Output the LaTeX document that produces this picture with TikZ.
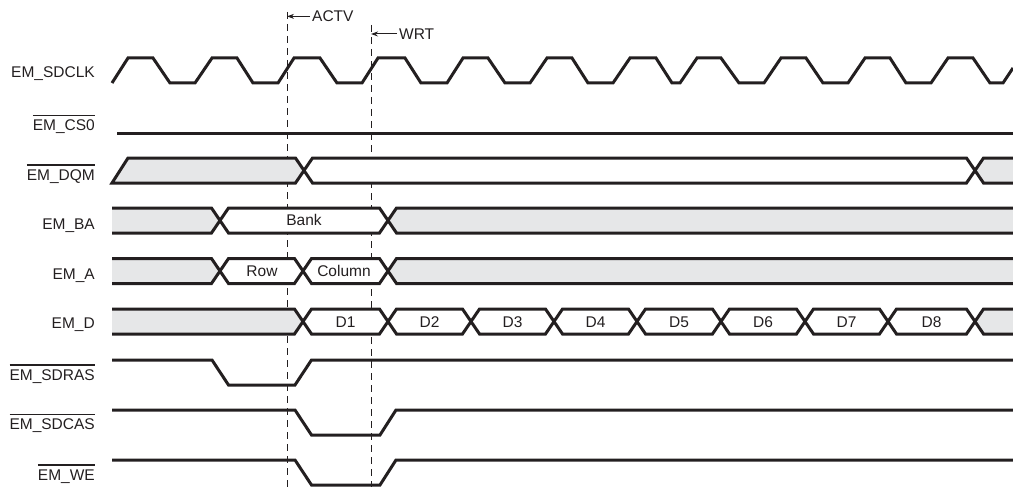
\documentclass[tikz,border=0pt]{standalone}
\usepackage{fontspec}
\setmainfont{Liberation Sans}
\usetikzlibrary{arrows.meta}
\definecolor{sigcol}{HTML}{231F20}
\definecolor{busgray}{HTML}{E6E7E8}
\newcommand\ovl[1]{{\setbox0\hbox{#1}\rlap{\rule[14.4pt]{\wd0}{1.2pt}}\box0}}
\def\hx{8.5}
% hexagon segment between crossings a and b
\newcommand\segfill[5]{\fill[#5] (#1,{(#3+#4)/2}) -- ({#1+\hx},#3) -- ({#2-\hx},#3) -- (#2,{(#3+#4)/2}) -- ({#2-\hx},#4) -- ({#1+\hx},#4) -- cycle;}
\newcommand\segdraw[4]{\draw[sig] (#1,{(#3+#4)/2}) -- ({#1+\hx},#3) -- ({#2-\hx},#3) -- (#2,{(#3+#4)/2}) -- ({#2-\hx},#4) -- ({#1+\hx},#4) -- cycle;}
\newcommand\busstartfill[3]{\fill[busgray] (112,#2) -- ({#1-\hx},#2) -- (#1,{(#2+#3)/2}) -- ({#1-\hx},#3) -- (112,#3) -- cycle;}
\newcommand\busstartdraw[3]{\draw[sig] (112,#2) -- ({#1-\hx},#2) -- (#1,{(#2+#3)/2}) -- ({#1-\hx},#3) -- (112,#3);}
\newcommand\busendfill[3]{\fill[busgray] (1013,#2) -- ({#1+\hx},#2) -- (#1,{(#2+#3)/2}) -- ({#1+\hx},#3) -- (1013,#3) -- cycle;}
\newcommand\busenddraw[3]{\draw[sig] (1013,#2) -- ({#1+\hx},#2) -- (#1,{(#2+#3)/2}) -- ({#1+\hx},#3) -- (1013,#3);}
\tikzset{
  sig/.style={line width=3pt, draw=sigcol, line join=miter},
  txt/.style={font=\fontsize{15.5}{18}\selectfont, inner sep=0pt, text=sigcol},
  lbl/.style={txt, anchor=base east},
  btxt/.style={txt, anchor=base},
  timeline/.style={line width=1pt, draw=sigcol, dash pattern=on 7pt off 5pt},
  evarrow/.style={line width=1pt, draw=sigcol, -{Stealth[length=7pt,width=5pt]}},
}
\begin{document}
\begin{tikzpicture}[x=1pt,y=-1pt]
\useasboundingbox (0,0) rectangle (1013,487);
% timelines
\coordinate (actvtop) at (287,12);
\coordinate (actvbot) at (287,487);
\coordinate (wrttop) at (371,25);
\coordinate (wrtbot) at (371,487);
\draw[timeline] (actvtop) -- (actvbot);
\draw[timeline] (wrttop) -- (wrtbot);
\node[txt, anchor=base west] (actv) at (312,21.7) {ACTV};
\node[txt, anchor=base west] (wrt) at (399,39.3) {WRT};
\draw[evarrow] ([xshift=-2pt]actv.west) -- (actv.west -| actvtop);
\draw[evarrow] ([xshift=-2pt]wrt.west) -- (wrt.west -| wrttop);

% labels
\node[lbl] (lclk) at (95,77.5) {EM\_SDCLK};
\node[lbl] (lcs) at (95,130.5) {\ovl{EM\_CS0}};
\node[lbl] (ldqm) at (95,180) {\ovl{EM\_DQM}};
\node[lbl] (lba) at (95,229) {EM\_BA};
\node[lbl] (la) at (95,279) {EM\_A};
\node[lbl] (ld) at (95,328.5) {EM\_D};
\node[lbl] (lras) at (95,380) {\ovl{EM\_SDRAS}};
\node[lbl] (lcas) at (95,429.5) {\ovl{EM\_SDCAS}};
\node[lbl] (lwe) at (95,480) {\ovl{EM\_WE}};

% clock
\draw[sig] (112,83) -- (128,58) -- (153,58) -- (170,83) -- (195,83) -- (212,58) -- (237,58) -- (253,83) -- (278,83) -- (294,58) -- (320,58) -- (337,83) -- (362,83) -- (378,58) -- (405,58) -- (421,83) -- (447,83) -- (463,58) -- (488,58) -- (505,83) -- (530,83) -- (547,58) -- (572,58) -- (588,83) -- (613,83) -- (630,58) -- (656,58) -- (672,83) -- (680,83) -- (697,58) -- (721,58) -- (739,83) -- (764,83) -- (781,58) -- (806,58) -- (823,83) -- (848,83) -- (865,58) -- (890,58) -- (906,83) -- (931,83) -- (948,58) -- (973,58) -- (990,83) -- (1003,83) -- (1013,68);

% CS0
\draw[sig] (117,133) -- (1013,133);

% DQM
\fill[busgray] (112,183) -- (128,158) -- ({304-\hx},158) -- (304,170.5) -- ({304-\hx},183) -- cycle;
\segfill{304}{975}{158}{183}{white}
\busendfill{975}{158}{183}
\draw[sig] (112,183) -- (128,158) -- ({304-\hx},158) -- (304,170.5) -- ({304-\hx},183) -- cycle;
\segdraw{304}{975}{158}{183}
\busenddraw{975}{158}{183}

% EM_BA
\busstartfill{220}{208}{233}
\segfill{220}{388}{208}{233}{white}
\busendfill{388}{208}{233}
\busstartdraw{220}{208}{233}
\segdraw{220}{388}{208}{233}
\busenddraw{388}{208}{233}
\node[btxt] (bank) at (304,225.5) {Bank};

% EM_A
\busstartfill{220}{258.5}{283.5}
\segfill{220}{303}{258.5}{283.5}{white}
\segfill{303}{388}{258.5}{283.5}{white}
\busendfill{388}{258.5}{283.5}
\busstartdraw{220}{258.5}{283.5}
\segdraw{220}{303}{258.5}{283.5}
\segdraw{303}{388}{258.5}{283.5}
\busenddraw{388}{258.5}{283.5}
\node[btxt] (row) at (262,276) {Row};
\node[btxt] (col) at (344,276) {Column};

% EM_D
\busstartfill{303}{309}{334}
\foreach \a/\b in {303/388,388/471,471/554,554/637,637/721,721/805,805/888,888/975}
  {\segfill{\a}{\b}{309}{334}{white}}
\busendfill{975}{309}{334}
\busstartdraw{303}{309}{334}
\foreach \a/\b in {303/388,388/471,471/554,554/637,637/721,721/805,805/888,888/975}
  {\segdraw{\a}{\b}{309}{334}}
\busenddraw{975}{309}{334}
\foreach \a/\b/\t in {303/388/D1,388/471/D2,471/554/D3,554/637/D4,637/721/D5,721/805/D6,805/888/D7,888/975/D8}
  {\node[btxt] (d\t) at ({(\a+\b)/2},327) {\t};}

% SDRAS, SDCAS, WE
\draw[sig] (112,360) -- (212,360) -- (228.5,385) -- (295,385) -- (311.5,360) -- (1013,360);
\draw[sig] (112,410) -- (295,410) -- (311.5,435) -- (380,435) -- (396,410) -- (1013,410);
\draw[sig] (112,460) -- (295,460) -- (311.5,485) -- (380,485) -- (396,460) -- (1013,460);
\end{tikzpicture}
\end{document}
